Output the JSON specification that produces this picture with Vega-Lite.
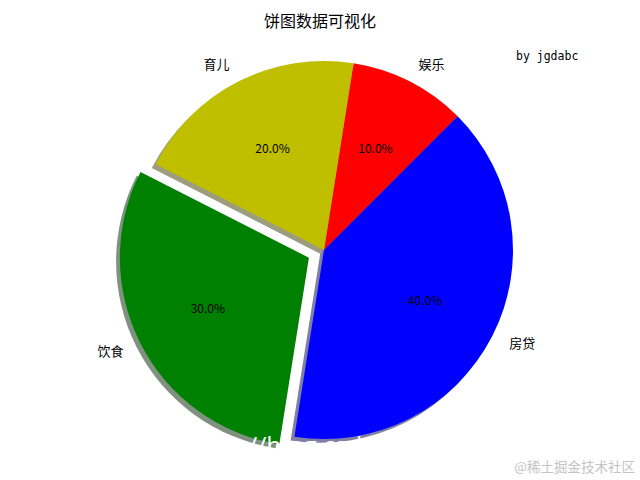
{
  "$schema": "https://vega.github.io/schema/vega-lite/v6.json",
  "width": 648,
  "height": 500,
  "autosize": "none",
  "padding": 0,
  "background": "white",
  "view": {"stroke": null},
  "config": {
    "text": {"font": "Noto Sans CJK SC", "color": "black"}
  },
  "layer": [
    {
      "data": {
        "values": [
          {"label": "娱乐", "share": 0.1},
          {"label": "育儿", "share": 0.2},
          {"label": "饮食", "share": 0.3},
          {"label": "房贷", "share": 0.4}
        ]
      },
      "encoding": {
        "theta": {
          "field": "share",
          "type": "quantitative",
          "stack": true,
          "scale": {"range": [0.7854, 7.0686]}
        },
        "order": {"field": "share", "type": "quantitative", "sort": "descending"}
      },
      "layer": [
        {
          "mark": {
            "type": "arc",
            "outerRadius": 189,
            "opacity": 0.5,
            "xOffset": {"expr": "datum.label === '饮食' ? -18.9 : -3.8"},
            "yOffset": {"expr": "datum.label === '饮食' ? 11.5 : 3.8"}
          },
          "encoding": {
            "fill": {
              "field": "label",
              "type": "nominal",
              "legend": null,
              "scale": {
                "domain": ["娱乐", "育儿", "饮食", "房贷"],
                "range": ["#4d0000", "#393900", "#002600", "#00004d"]
              }
            }
          }
        },
        {
          "mark": {
            "type": "arc",
            "outerRadius": 189,
            "xOffset": {"expr": "datum.label === '饮食' ? -15.1 : 0"},
            "yOffset": {"expr": "datum.label === '饮食' ? 7.7 : 0"}
          },
          "encoding": {
            "color": {
              "field": "label",
              "type": "nominal",
              "legend": null,
              "scale": {
                "domain": ["娱乐", "育儿", "饮食", "房贷"],
                "range": ["#ff0000", "#bfbf00", "#008000", "#0000ff"]
              }
            }
          }
        },
        {
          "mark": {
            "type": "text",
            "radius": 113.4,
            "fontSize": 12,
            "baseline": "middle",
            "dx": {"expr": "datum.label === '饮食' ? -15.1 : 0"},
            "dy": {"expr": "datum.label === '饮食' ? 7.7 : 0"}
          },
          "encoding": {
            "text": {"field": "share", "type": "quantitative", "format": ".1%"}
          }
        },
        {
          "mark": {
            "type": "text",
            "radius": 208,
            "fontSize": 13,
            "baseline": "middle",
            "align": {"expr": "datum.label === '育儿' || datum.label === '饮食' ? 'right' : 'left'"},
            "dx": {"expr": "datum.label === '饮食' ? -15.1 : 0"},
            "dy": {"expr": "datum.label === '饮食' ? 7.7 : 0"}
          },
          "encoding": {
            "text": {"field": "label", "type": "nominal"}
          }
        }
      ],
      "resolve": {"scale": {"color": "independent", "fill": "independent"}}
    },
    {
      "data": {"values": [{}]},
      "mark": {
        "type": "text",
        "text": "饼图数据可视化",
        "x": 320,
        "y": 22,
        "fontSize": 16,
        "baseline": "middle",
        "align": "center"
      }
    },
    {
      "data": {"values": [{}]},
      "mark": {
        "type": "text",
        "text": "by jgdabc",
        "x": 516,
        "y": 57,
        "fontSize": 11.5,
        "font": "DejaVu Sans Mono",
        "baseline": "middle",
        "align": "left"
      }
    },
    {
      "data": {"values": [{}]},
      "mark": {
        "type": "text",
        "text": "//blog.csdn.net/",
        "x": 248,
        "y": 455,
        "fontSize": 25,
        "font": "Open Sans",
        "color": "white",
        "baseline": "alphabetic",
        "align": "left"
      }
    },
    {
      "data": {"values": [{}]},
      "mark": {
        "type": "text",
        "text": "@稀土掘金技术社区",
        "x": 635,
        "y": 468,
        "fontSize": 13.5,
        "color": "#c4c4c4",
        "baseline": "middle",
        "align": "right"
      }
    }
  ]
}
